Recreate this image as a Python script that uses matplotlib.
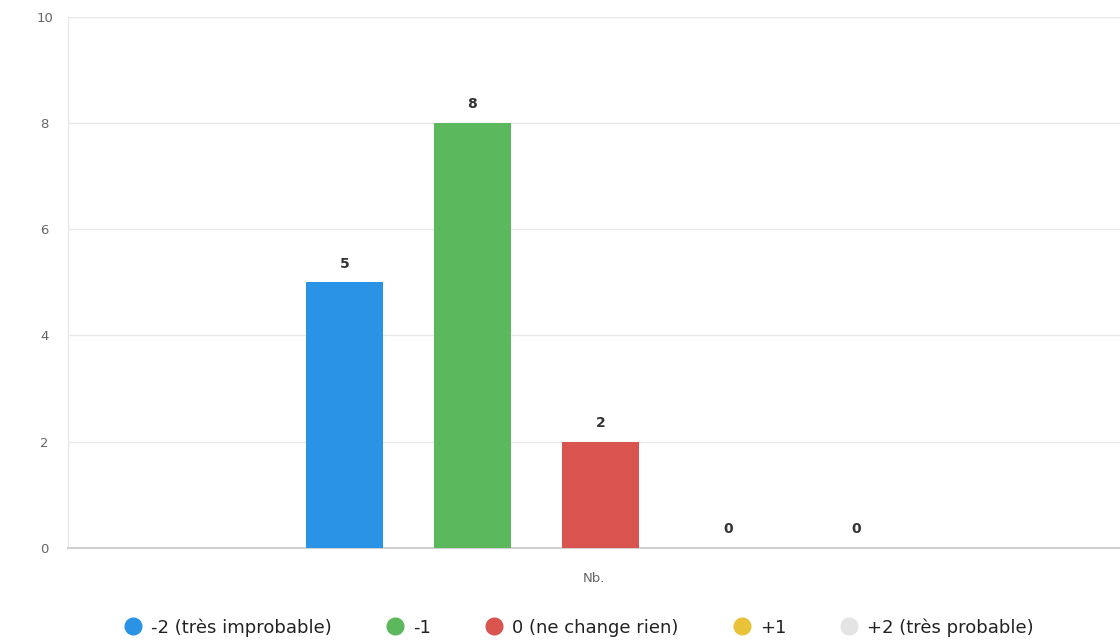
import matplotlib.pyplot as plt
from matplotlib.lines import Line2D

category = 'Nb.'
labels = ['-2 (très improbable)', '-1', '0 (ne change rien)', '+1', '+2 (très probable)']
values = [5, 8, 2, 0, 0]
colors = ['#2b93e6', '#5cb85c', '#d9534f', '#e8c33a', '#e4e4e4']
yticks = [0, 2, 4, 6, 8, 10]

fig = plt.figure(figsize=(11.2, 6.41), dpi=100)
ax = fig.add_axes([0.061, 0.145, 0.939, 0.829])

step = 0.1217
width = 0.073
n = len(values)
for i, (v, c) in enumerate(zip(values, colors)):
    x = (i - (n - 1) / 2) * step + 0.006
    ax.bar(x, v, width=width, color=c, zorder=3)
    ax.text(x, v + 0.22, str(v), ha='center', va='bottom',
            fontsize=10, fontweight='bold', color='#333333', zorder=4)

ax.set_xlim(-0.5, 0.5)
ax.set_ylim(0, 10)
ax.set_yticks(yticks)
ax.set_xticks([0])
ax.set_xticklabels([category])
ax.tick_params(axis='y', length=0, pad=17, labelsize=9.5, labelcolor='#666666')
ax.tick_params(axis='x', length=0, pad=17, labelsize=9.5, labelcolor='#666666')
for lbl in ax.get_yticklabels():
    lbl.set_horizontalalignment('center')
ax.grid(axis='y', color='#e8e8e8', linewidth=1, zorder=0)
for side in ['top', 'right']:
    ax.spines[side].set_visible(False)
ax.spines['left'].set_color('#e6e6e6')
ax.spines['bottom'].set_color('#d0d0d0')
ax.spines['bottom'].set_linewidth(1.5)

handles = [Line2D([0], [0], marker='o', linestyle='', markersize=12,
                  markerfacecolor=c, markeredgecolor=c) for c in colors]
fig.legend(handles, labels, loc='center', bbox_to_anchor=(0.517, 0.021),
           ncol=5, frameon=False, fontsize=13, handlelength=1.0,
           handletextpad=0.5, columnspacing=3.0, labelcolor='#222222')

plt.savefig('out.png', dpi=100)
